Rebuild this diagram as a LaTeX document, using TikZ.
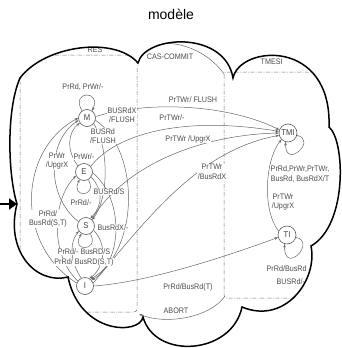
\documentclass[tikz,border=0pt]{standalone}
\usepackage{fontspec}
\setmainfont{Liberation Sans}
\newfontfamily\lblfont[FakeStretch=0.9]{Liberation Sans}
\usetikzlibrary{arrows.meta}
\def\cloudpath{(17,204) .. controls (8,175) and (6,110) .. (20,78)
  .. controls (45,45) and (115,36) .. (138,63)
  .. controls (145,35) and (225,30) .. (233,78)
  .. controls (240,45) and (332,38) .. (329,127)
  .. controls (345,140) and (348,225) .. (311,246)
  .. controls (318,280) and (285,325) .. (242,307)
  .. controls (232,355) and (155,360) .. (143,317)
  .. controls (140,335) and (80,335) .. (68,277)
  .. controls (35,285) and (5,250) .. (17,204) -- cycle}
\begin{document}
\begin{tikzpicture}[x=1pt,y=-1pt,
  lbl/.style={font=\lblfont\fontsize{8}{9.5}\selectfont, text=black!70, inner sep=0.4pt, fill=white, align=center},
  state/.style={circle, draw=black!65, line width=0.6pt, minimum size=17pt, inner sep=0pt, font=\lblfont\fontsize{8.5}{9}\selectfont, text=black!75},
  tr/.style={draw=black!60, line width=0.5pt, -{Stealth[length=3.5pt,width=2.6pt]}},
  region/.style={draw=black!55, line width=0.5pt, dash pattern=on 4pt off 1.5pt on 0.8pt off 1.5pt, rounded corners=3pt},
  cloudline/.style={line width=1.5pt, draw=black}]
\useasboundingbox (0,0) rectangle (342,348);
\node[font=\fontsize{14}{16}\selectfont] (title) at (171,14) {modèle};
\coordinate (P0) at (17,204);
\coordinate (Ltr) at (137,57);
\coordinate (Lbr) at (139,314);
\coordinate (Rtl) at (224,74);
\coordinate (Rbl) at (225,296);
\begin{scope}
\clip \cloudpath;
\draw[region] (20,55) rectangle (137,312);
\draw[region] (224,72) rectangle (360,298);
\node[lbl,fill=none] (lres) at (95,50) {RES};
\node[lbl,fill=none,anchor=west] (ltm) at (260,62) {TMESI};
% states
\node[state] (M) at (87,118) {M};
\node[state] (E) at (84,172) {E};
\node[state] (S) at (86,226) {S};
\node[state] (I) at (85,286) {I};
\node[state,minimum size=18pt] (TMI) at (288,133) {TMI};
\node[state,minimum size=18pt] (TI) at (287,235) {TI};
% self loops
\draw[tr] (M.125) .. controls (70,90) and (102,90) .. (M.55);
\draw[tr] (E.300) .. controls (98,198) and (70,198) .. (E.240);
\draw[tr] (S.300) .. controls (100,252) and (70,252) .. (S.240);
\draw[tr] (TMI.-15) .. controls (318,140) and (285,170) .. (TMI.-105);
\draw[tr] (TI.-15) .. controls (317,242) and (284,276) .. (TI.-105);
% left box transitions
\draw[tr] (E.135) .. controls (66,150) and (68,132) .. (M.215);
\draw[tr] (S.150) .. controls (45,195) and (48,140) .. (M.195);
\draw[tr] (I.160) .. controls (15,245) and (18,150) .. (M.180);
\draw[tr] (I.145) .. controls (50,255) and (52,200) .. (E.205);
\draw[tr] (I.115) .. controls (72,265) and (68,245) .. (S.215);
\draw[tr] (M.320) .. controls (110,150) and (108,200) .. (S.45);
\draw[tr] (M.345) .. controls (140,150) and (140,250) .. (I.50);
\draw[tr] (E.325) .. controls (103,190) and (103,205) .. (S.60);
\draw[tr] (E.355) .. controls (125,200) and (122,262) .. (I.40);
\draw[tr] (S.330) .. controls (108,245) and (104,268) .. (I.60);
% to transactional states
\draw[tr] (M.10) .. controls (150,100) and (230,105) .. (TMI.160);
\draw[tr] (E.40) .. controls (115,135) and (180,115) .. (TMI.170);
\draw[tr] (S.50) .. controls (125,165) and (200,135) .. (TMI.180);
\draw[tr] (I.20) .. controls (150,215) and (200,150) .. (TMI.195);
\draw[tr] (I.0) .. controls (150,282) and (230,255) .. (TI.195);
\draw[tr] (TI.155) .. controls (262,210) and (265,160) .. (TMI.225);
\draw[tr] (Rtl) .. controls (200,40) and (150,35) .. (Ltr);
\draw[tr] (Rbl) .. controls (210,318) and (165,325) .. (Lbr);
% labels
\node[lbl] (l1) at (83,87) {PrRd, PrWr/-};
\node[lbl] (l2) at (57,161) {PrWr\\/UpgrX};
\node[lbl] (l3) at (84,157) {PrWr/-};
\node[lbl] (l4) at (122,115) {BUSRdX\\/FLUSH};
\node[lbl] (l5) at (103,136) {BUSRd\\/FLUSH};
\node[lbl] (l6) at (81,203) {PrRd/-};
\node[lbl] (l7) at (109,192) {BUSRd/S};
\node[lbl] (l8) at (48,219) {PrRd/\\BusRd(S,T)};
\node[lbl] (l9) at (113,228) {BusRdX/-};
\node[lbl] (l10) at (84,252) {PrRd/- BusRD/S};
\node[lbl] (l11) at (84,262) {PrRd/ BusRD(S,T)};
\node[lbl] (l12) at (193,100) {PrTWr/ FLUSH};
\node[lbl] (l13) at (172,118) {PrTWr/-};
\node[lbl] (l14) at (188,139) {PrTWr /UpgrX};
\node[lbl] (l15) at (212,172) {PrTWr\\/BusRdX};
\node[lbl] (l16) at (283,202) {PrTWr\\/UpgrX};
\node[lbl] (l17) at (300,174) {PrRd,PrWr,PrTWr,\\BusRd, BusRdX/T};
\node[lbl,anchor=west] (l18) at (266,269) {PrRd/BusRd};
\node[lbl,anchor=west] (l19) at (276,282) {BUSRd/-};
\node[lbl] (l20) at (188,287) {PrRd/BusRd(T)};
\node[lbl] (l21) at (176,311) {ABORT};
\node[lbl] (l22) at (170,57) {CAS-COMMIT};
\end{scope}
\draw[cloudline] \cloudpath;
\draw[line width=2.4pt, -{Triangle[length=8pt,width=11pt]}] (0,204) -- (P0);
\end{tikzpicture}
\end{document}
